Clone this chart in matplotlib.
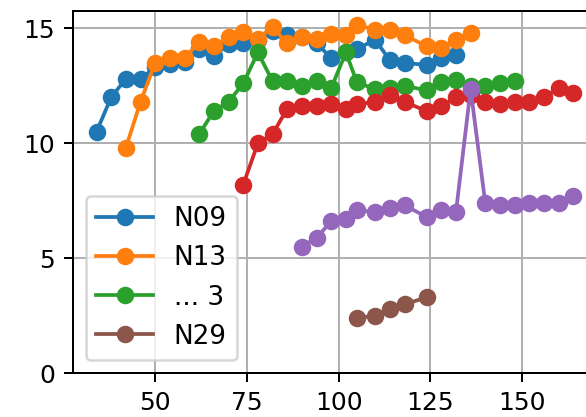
import matplotlib
matplotlib.use('Agg')
import matplotlib.pyplot as plt

# x positions used by the series
x_n09 = [34, 38, 42, 46, 50, 54, 58, 62, 66, 70, 74, 78, 82, 86, 90, 94, 98, 102,
         105, 110, 114, 118, 124, 128, 132]
y_n09 = [10.5, 12.0, 12.8, 12.8, 13.3, 13.45, 13.55, 14.1, 13.8, 14.3, 14.35, 14.5, 14.9, 14.7,
         14.6, 14.35, 13.7, 13.95, 14.1, 14.5, 13.6, 13.5, 13.4, 13.7, 13.85]

x_n13 = [42, 46, 50, 54, 58, 62, 66, 70, 74, 78, 82, 86, 90, 94, 98, 102,
         105, 110, 114, 118, 124, 128, 132, 136]
y_n13 = [9.8, 11.8, 13.5, 13.7, 13.7, 14.4, 14.25, 14.6, 14.85, 14.55, 15.05, 14.35, 14.6,
         14.55, 14.75, 14.7, 15.15, 14.93, 14.93, 14.7, 14.22, 14.13, 14.5, 14.8]

x_g3 = [62, 66, 70, 74, 78, 82, 86, 90, 94, 98, 102, 105, 110, 114, 118, 124,
        128, 132, 136, 140, 144, 148]
y_g3 = [10.4, 11.4, 11.8, 12.6, 13.95, 12.7, 12.7, 12.5, 12.7, 12.4, 13.95, 12.65, 12.35,
        12.4, 12.5, 12.3, 12.65, 12.75, 12.5, 12.5, 12.6, 12.7]

x_red = [74, 78, 82, 86, 90, 94, 98, 102, 105, 110, 114, 118, 124, 128, 132, 136,
         140, 144, 148, 152, 156, 160, 164]
y_red = [8.2, 10.0, 10.4, 11.5, 11.6, 11.6, 11.7, 11.5, 11.7, 11.8, 12.1, 11.8, 11.4, 11.6,
         12.0, 12.1, 11.8, 11.7, 11.8, 11.8, 12.0, 12.4, 12.2]

x_purple = [90, 94, 98, 102, 105, 110, 114, 118, 124, 128, 132, 136, 140, 144, 148,
            152, 156, 160, 164]
y_purple = [5.5, 5.9, 6.6, 6.7, 7.1, 7.0, 7.2, 7.3, 6.8, 7.1, 7.0, 12.35, 7.4, 7.3, 7.3,
            7.4, 7.4, 7.4, 7.7]

x_n29 = [105, 110, 114, 118, 124]
y_n29 = [2.4, 2.5, 2.8, 3.0, 3.3]

dpi = 180
fig = plt.figure(figsize=(586 / dpi, 417 / dpi), dpi=dpi)
ax = fig.add_axes([0.124, 0.1048, 0.895, 0.8688])

ax.plot(x_n09, y_n09, marker='o', label='N09')
ax.plot(x_n13, y_n13, marker='o', label='N13')
ax.plot(x_g3, y_g3, marker='o', label='... 3')
ax.plot(x_red, y_red, marker='o', label='_nolegend_')
ax.plot(x_purple, y_purple, marker='o', label='_nolegend_')
ax.plot(x_n29, y_n29, marker='o', label='N29')

ax.set_xlim(27.5, 170.5)
ax.set_ylim(0, 15.75)
ax.set_xticks([50, 75, 100, 125, 150])
ax.set_yticks([0, 5, 10, 15])
ax.grid(True)
ax.legend(loc='lower left', fontsize=10.5, handlelength=2.15)

fig.savefig('out.png', dpi=dpi)
plt.close(fig)
